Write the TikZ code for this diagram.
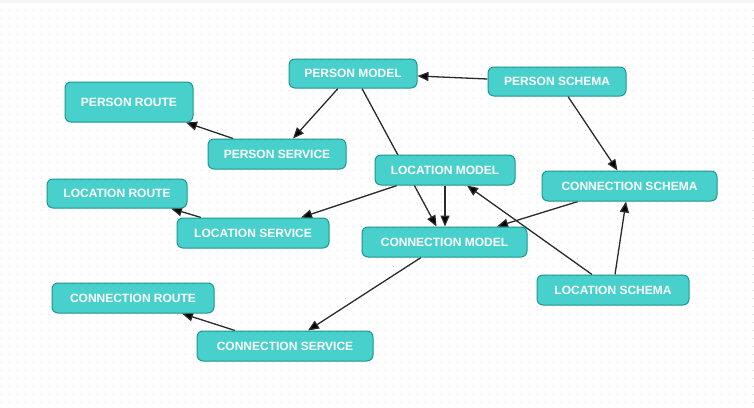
\documentclass[tikz,border=0pt]{standalone}
\usepackage{fontspec}
\setmainfont{Liberation Sans}
\usetikzlibrary{arrows.meta,calc}
\pgfdeclarelayer{bg}
\pgfsetlayers{bg,main}
\definecolor{boxfill}{HTML}{48D1CC}
\definecolor{boxline}{HTML}{1E9690}
\definecolor{edgecol}{HTML}{2A2A2A}
\definecolor{dotcol}{HTML}{D8D8D8}
\tikzset{
  box/.style={draw=boxline, line width=1pt, fill=boxfill, rounded corners=6pt,
    text=white, font=\fontsize{12}{14}\selectfont\bfseries, inner sep=0pt, anchor=center},
  edge/.style={draw=edgecol, line width=1.3pt, -{Triangle[length=11pt,width=9pt,fill=black]}}
}
\begin{document}
\begin{tikzpicture}[x=1pt,y=-1pt]
\useasboundingbox (0,0) rectangle (754,407);
\begin{pgfonlayer}{bg}
\fill[white] (0,0) rectangle (754,407);
\fill[black!4] (0,0) rectangle (754,3);
\foreach \i in {1,9,...,753} {
  \foreach \j in {10,18,...,406} {
    \fill[dotcol] (\i,\j) rectangle ++(1,1);
  }
}
\end{pgfonlayer}
\node[box, minimum width=128pt, minimum height=29pt] (pm)  at (353,73.5) {PERSON MODEL};
\node[box, minimum width=138pt, minimum height=29pt] (psc) at (557,81.5) {PERSON SCHEMA};
\node[box, minimum width=140pt, minimum height=30pt] (lm)  at (445,170) {LOCATION MODEL};
\node[box, minimum width=128pt, minimum height=40pt] (pr)  at (129,102) {PERSON ROUTE};
\node[box, minimum width=138pt, minimum height=30pt] (psv) at (277,154) {PERSON SERVICE};
\node[box, minimum width=140pt, minimum height=29pt] (lr)  at (117,193.5) {LOCATION ROUTE};
\node[box, minimum width=152pt, minimum height=30pt] (lsv) at (253,233) {LOCATION SERVICE};
\node[box, minimum width=175pt, minimum height=30pt] (csc) at (629.5,186) {CONNECTION SCHEMA};
\node[box, minimum width=165pt, minimum height=30pt] (cm)  at (444.5,242) {CONNECTION MODEL};
\node[box, minimum width=152pt, minimum height=30pt] (lsc) at (613,290) {LOCATION SCHEMA};
\node[box, minimum width=162pt, minimum height=30pt] (cr)  at (133,298) {CONNECTION ROUTE};
\node[box, minimum width=176pt, minimum height=30pt] (csv) at (285,346) {CONNECTION SERVICE};
\begin{pgfonlayer}{bg}
\draw[edge] ($(psc.west)+(0,-2.5)$) -- ($(pm.east)+(0,2.5)$);
\draw[edge] ($(psc.south)+(11,0)$) -- ($(csc.north)+(-12,0)$);
\draw[edge] ($(pm.south)+(-15,0)$) -- ($(psv.north)+(16,0)$);
\draw[edge] ($(pm.south)+(9,0)$) -- ($(cm.north)+(-8,0)$);
\draw[edge] ($(psv.north)+(-44,0)$) -- ($(pr.south)+(57,0)$);
\draw[edge] ($(lm.south)+(-48,0)$) -- ($(lsv.north)+(48,0)$);
\draw[edge] (lm.south) -- (lm.south |- cm.north);
\draw[edge] ($(lsv.north)+(-52,0)$) -- ($(lr.south)+(54,0)$);
\draw[edge] ($(csc.south)+(-51.5,0)$) -- ($(cm.north)+(52.5,0)$);
\draw[edge] ($(lsc.north)+(-21,0)$) -- ($(lm.south)+(22,0)$);
\draw[edge] ($(lsc.north)+(2,0)$) -- ($(csc.south)+(-3.5,0)$);
\draw[edge] ($(cm.south)+(-23.5,0)$) -- ($(csv.north)+(23,0)$);
\draw[edge] ($(csv.north)+(-50,0)$) -- ($(cr.south)+(49,0)$);
\end{pgfonlayer}
\end{tikzpicture}
\end{document}
